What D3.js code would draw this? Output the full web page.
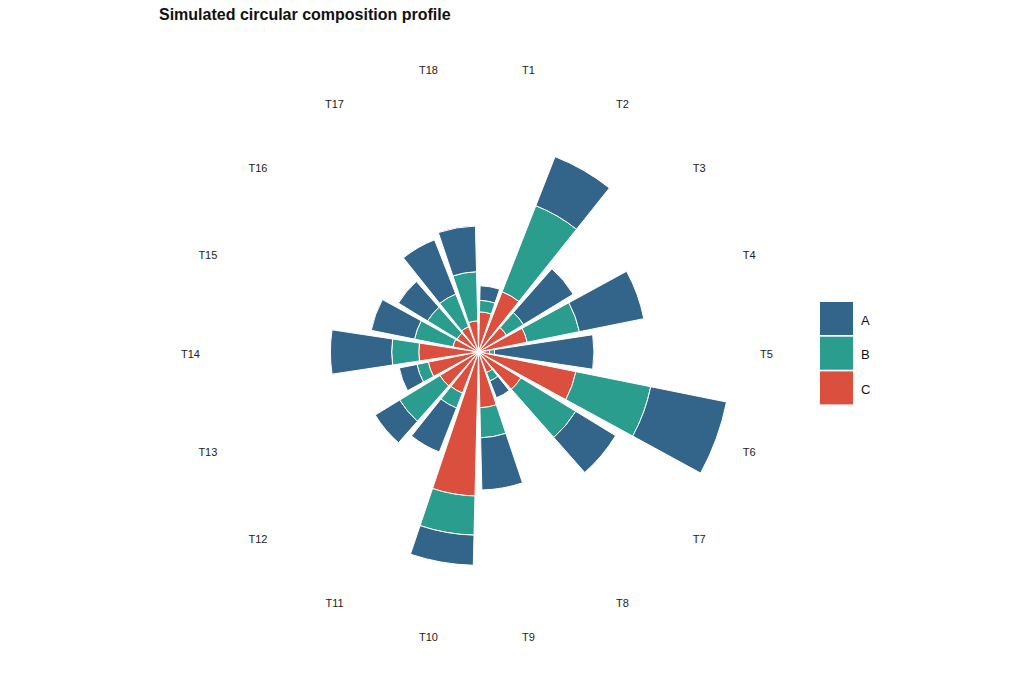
<!DOCTYPE html>
<html>
<head>
<meta charset="utf-8">
<script src="https://cdn.jsdelivr.net/npm/d3@7"></script>
<style>
  html, body { margin: 0; padding: 0; background: #fff; }
  svg { display: block; font-family: "Liberation Sans", Arial, sans-serif; }
</style>
</head>
<body>
<svg id="chart" width="1036" height="690"></svg>
<script>
// ---- data ----
const categories = ["T1","T2","T3","T4","T5","T6","T7","T8","T9","T10","T11","T12","T13","T14","T15","T16","T17","T18"];
const seriesKeys = ["A","B","C"];
const valuesA = [5.8, 21.0, 23.2, 26.2, 39.6, 30.8, 18.6, 7.2, 20.8, 12.0, 18.8, 11.4, 7.2, 24.4, 17.6, 13.6, 23.2, 18.2];
const valuesB = [4.6, 36.8, 8.0, 21.2, 2.0, 30.4, 25.6, 3.6, 12.0, 15.6, 6.4, 18.8, 4.6, 10.8, 15.6, 13.8, 14.0, 19.6];
const valuesC = [16.0, 25.8, 13.0, 19.8, 4.4, 39.6, 19.8, 8.8, 22.2, 57.4, 17.6, 18.0, 20.4, 23.8, 10.4, 10.0, 10.8, 12.4];
const colors = { A: "#33658A", B: "#2A9D8F", C: "#DA4F3E" };
const titleText = "Simulated circular composition profile";

// ---- layout ----
const svg = d3.select("#chart");
const cx = 478.5, cy = 352;
const maxR = 253, labelR = 288;

const rows = categories.map((c, i) => ({ cat: c, A: valuesA[i], B: valuesB[i], C: valuesC[i] }));
const stack = d3.stack().keys(["C", "B", "A"]);
const stacked = stack(rows);
const maxTotal = d3.max(rows, d => d.A + d.B + d.C);

const x = d3.scaleBand().domain(categories).range([0, 2 * Math.PI]).paddingInner(0.14).paddingOuter(0.07);
const r = d3.scaleLinear().domain([0, maxTotal]).range([0, maxR]);

const g = svg.append("g").attr("transform", `translate(${cx},${cy})`);
const arc = d3.arc()
  .startAngle(d => x(d.data.cat))
  .endAngle(d => x(d.data.cat) + x.bandwidth())
  .innerRadius(d => r(d[0]))
  .outerRadius(d => r(d[1]));

stacked.forEach(layer => {
  g.append("g").selectAll("path")
    .data(layer)
    .join("path")
    .attr("d", arc)
    .attr("fill", colors[layer.key])
    .attr("stroke", "#fff")
    .attr("stroke-width", 1);
});

// category labels
g.append("g").attr("transform", "translate(0,1.5)").selectAll("text")
  .data(categories)
  .join("text")
  .attr("x", d => labelR * Math.sin(x(d) + x.bandwidth() / 2))
  .attr("y", d => -labelR * Math.cos(x(d) + x.bandwidth() / 2))
  .attr("text-anchor", "middle")
  .attr("dominant-baseline", "central")
  .attr("font-size", 11)
  .attr("fill", "#222")
  .text(d => d);

// title
svg.append("text")
  .attr("x", 159).attr("y", 20)
  .attr("font-size", 16)
  .attr("font-weight", "bold")
  .attr("fill", "#111")
  .text(titleText);

// legend
const lg = svg.append("g").attr("transform", "translate(820,302)");
const keyH = 33, keyGap = 1.7;
seriesKeys.forEach((k, i) => {
  const yy = i * (keyH + keyGap);
  lg.append("rect").attr("x", 0).attr("y", yy).attr("width", 33).attr("height", keyH)
    .attr("fill", colors[k]);
  lg.append("text").attr("x", 41).attr("y", yy + keyH / 2 + 1.5)
    .attr("dominant-baseline", "central")
    .attr("font-size", 13).attr("fill", "#111").text(k);
});
</script>
</body>
</html>
